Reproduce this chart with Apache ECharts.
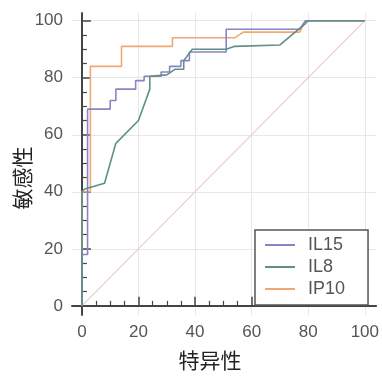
<!DOCTYPE html>
<html>
<head>
<meta charset="utf-8">
<script src="https://cdn.jsdelivr.net/npm/echarts@6/dist/echarts.min.js"></script>
<style>html,body{margin:0;padding:0;background:#fff}#c{width:382px;height:376px}</style>
</head>
<body>
<div id="c"></div>
<script>
const seriesNames = ['IL15', 'IL8', 'IP10'];
const il15X = [0,0,2,2,10,10,12,12,19,19,22,22,28,28,31,31,35,35,38,38,51,51,77,79,100];
const il15Y = [0,18,18,69,69,72,72,76,76,79,79,80.5,80.5,82,82,84,84,86,86,89,89,97,97,100,100];
const il8X = [0,0,1,8,12,20,24,24,30,33,36,36,39,51,54,70,79,80,100];
const il8Y = [0,40,41,43,57,65,76,80.5,81,83,83,86,90,90,91,91.5,99,100,100];
const ip10X = [0,0,3,3,14,14,32,32,54,57,77,79,100];
const ip10Y = [0,40,40,84,84,91,91,94,94,96,96,100,100];
const refX = [0,100];
const refY = [0,100];
const majorTicks = [0,20,40,60,80,100];
const minorTicks = [5,10,15,25,30,35,45,50,55,65,70,75,85,90,95];
const xTitle = '特异性';
const yTitle = '敏感性';

const pairs = (xs, ys) => xs.map((x, i) => [x, ys[i]]);
const colors = ['#8884c6', '#5f8f86', '#f2a672'];
const axisCol = '#444';

function mainAxis(min, max, pos) {
  return {
    type: 'value', min: min, max: max, position: pos,
    axisLine: { show: true, lineStyle: { color: axisCol, width: 2 } },
    axisTick: { show: true, inside: true, length: 9, customValues: majorTicks, lineStyle: { color: axisCol, width: 1.5 } },
    axisLabel: { customValues: majorTicks, margin: 9, fontSize: 17, color: '#555', fontFamily: 'Liberation Sans, Arial' },
    splitLine: { show: true, lineStyle: { color: '#e8e8e8', width: 1 } }
  };
}
function minorAxis(min, max, pos) {
  return {
    type: 'value', min: min, max: max, position: pos,
    axisLine: { show: false },
    axisTick: { show: true, inside: true, length: 5, customValues: minorTicks, lineStyle: { color: axisCol, width: 1.2 } },
    axisLabel: { show: false },
    splitLine: { show: false }
  };
}

const chart = echarts.init(document.getElementById('c'), null, { renderer: 'canvas' });
chart.setOption({
  animation: false,
  backgroundColor: '#fff',
  grid: { left: 72, top: 13, width: 306, height: 302, containLabel: false },
  xAxis: [mainAxis(-3.5, 104, 'bottom'), minorAxis(-3.5, 104, 'bottom')],
  yAxis: [mainAxis(-3.2, 102.7, 'left'), minorAxis(-3.2, 102.7, 'left')],
  legend: {
    orient: 'vertical', left: 255, top: 230,
    data: seriesNames,
    itemWidth: 30, itemHeight: 14, itemGap: 4,
    padding: [6, 23, 7, 10],
    borderColor: '#555', borderWidth: 1.5,
    backgroundColor: '#fff',
    icon: 'path://M0,6 L30,6 L30,8 L0,8 Z',
    textStyle: { fontSize: 18, color: '#555', fontFamily: 'Liberation Sans, Arial', padding: [0, 0, 0, 8] }
  },
  series: [
    { name: 'ref', type: 'line', data: pairs(refX, refY), symbol: 'none', silent: true,
      lineStyle: { color: '#efcaca', width: 1.2 }, z: 1 },
    { name: seriesNames[0], type: 'line', data: pairs(il15X, il15Y), symbol: 'none',
      itemStyle: { color: colors[0] }, lineStyle: { color: colors[0], width: 1.6 }, z: 3 },
    { name: seriesNames[1], type: 'line', data: pairs(il8X, il8Y), symbol: 'none',
      itemStyle: { color: colors[1] }, lineStyle: { color: colors[1], width: 1.6 }, z: 3 },
    { name: seriesNames[2], type: 'line', data: pairs(ip10X, ip10Y), symbol: 'none',
      itemStyle: { color: colors[2] }, lineStyle: { color: colors[2], width: 1.6 }, z: 2 }
  ],
  graphic: [
    { type: 'text', x: 210, y: 360, style: { text: xTitle, font: '21px "Noto Sans CJK SC"', fill: '#222', textAlign: 'center', textVerticalAlign: 'middle' } },
    { type: 'text', x: 22, y: 178, rotation: Math.PI / 2, style: { text: yTitle, font: '21px "Noto Sans CJK SC"', fill: '#222', textAlign: 'center', textVerticalAlign: 'middle' } }
  ]
});
</script>
</body>
</html>
